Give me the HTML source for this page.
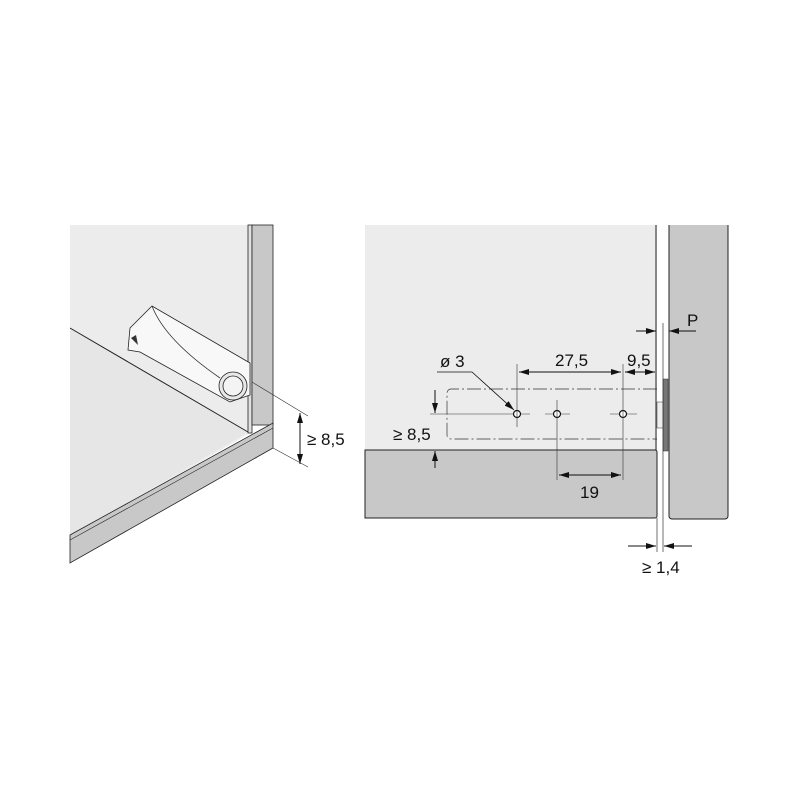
<!DOCTYPE html>
<html><head><style>body{margin:0;background:#fff}svg{display:block}text{font-family:"Liberation Sans",sans-serif;font-size:17px;fill:#111}</style></head><body>
<svg width="800" height="800" viewBox="0 0 800 800">
<defs><marker id="a" markerWidth="10" markerHeight="6" refX="10" refY="3" orient="auto" markerUnits="userSpaceOnUse"><path d="M0,0L10,3L0,6z" fill="#111"/></marker></defs>
<!-- left panel -->
<polygon points="70,225 250,225 250,433 70,538" fill="#ececec"/>
<polygon points="70,328 248,432 70,536" fill="#e6e6e6"/>
<line x1="70" y1="328" x2="248" y2="432" stroke="#222" stroke-width="1"/>
<rect x="248" y="225" width="4" height="208" fill="#e0e0e0" stroke="#222" stroke-width="0.8"/>
<rect x="252" y="225" width="21" height="200" fill="#c8c8c8" stroke="#222" stroke-width="0.8"/>
<polygon points="70,535 273,423 273,448 70,563" fill="#c8c8c8" stroke="#222" stroke-width="0.8"/>
<line x1="70" y1="540" x2="273" y2="428" stroke="#222" stroke-width="0.6"/>
<!-- damper -->
<polygon points="130,328 152,306 250,363 250,395 230,402 140,352 128,350" fill="#f8f8f8" stroke="#222" stroke-width="0.8"/>
<path d="M152,306 Q165,340 220,378" fill="none" stroke="#333" stroke-width="0.8"/>
<circle cx="233" cy="386" r="14" fill="#e8e8e8" stroke="#222" stroke-width="0.8"/>
<circle cx="233" cy="386" r="10" fill="#f4f4f4" stroke="#222" stroke-width="0.8"/>
<path d="M131,338 l5,-3 l2,10z" fill="#333"/>
<line x1="252" y1="382" x2="308" y2="416" stroke="#333" stroke-width="0.6"/>
<line x1="273" y1="448" x2="308" y2="467" stroke="#333" stroke-width="0.6"/>
<line x1="300" y1="427" x2="300" y2="413" stroke="#111" marker-end="url(#a)"/>
<line x1="300" y1="450" x2="300" y2="464" stroke="#111" marker-end="url(#a)"/>
<line x1="300" y1="420" x2="300" y2="458" stroke="#111"/>
<text x="307" y="445">≥ 8,5</text>
<!-- right panel -->
<rect x="365" y="225" width="292" height="226" fill="#ececec"/>
<line x1="656" y1="225" x2="656" y2="451" stroke="#222" stroke-width="1"/>
<path d="M365,450 H655 a2,2 0 0 1 2,2 V516 a2,2 0 0 1 -2,2 H365 Z" fill="#c8c8c8" stroke="#222" stroke-width="1"/>
<path d="M669,225 V516 a3,3 0 0 0 3,3 H725 a3,3 0 0 0 3,-3 V225" fill="#c8c8c8" stroke="#222" stroke-width="1"/>
<rect x="663" y="379" width="5" height="72" fill="#777" stroke="#333" stroke-width="0.5"/>
<rect x="657" y="402" width="6" height="26" fill="#eee" stroke="#333" stroke-width="0.5"/>
<line x1="663" y1="323" x2="663" y2="552" stroke="#333" stroke-width="0.7"/>
<!-- dash dot rect -->
<path d="M657,389 H451 a4,4 0 0 0 -4,4 V435 a4,4 0 0 0 4,4 H657" fill="none" stroke="#333" stroke-width="0.7" stroke-dasharray="14,3,2,3"/>
<line x1="430" y1="414" x2="530" y2="414" stroke="#333" stroke-width="0.6"/>
<line x1="545" y1="414" x2="570" y2="414" stroke="#333" stroke-width="0.6"/>
<line x1="610" y1="414" x2="637" y2="414" stroke="#333" stroke-width="0.6"/>
<g fill="#fff" stroke="#111" stroke-width="1.2"><circle cx="517" cy="414" r="3.5"/><circle cx="557" cy="414" r="3.5"/><circle cx="623" cy="414" r="3.5"/></g>
<line x1="517" y1="364" x2="517" y2="427" stroke="#333" stroke-width="0.6"/>
<line x1="557" y1="400" x2="557" y2="480" stroke="#333" stroke-width="0.6"/>
<line x1="623" y1="364" x2="623" y2="480" stroke="#333" stroke-width="0.6"/>
<line x1="570" y1="372" x2="519" y2="372" stroke="#111" marker-end="url(#a)"/>
<line x1="570" y1="372" x2="621" y2="372" stroke="#111" marker-end="url(#a)"/>
<line x1="640" y1="372" x2="625" y2="372" stroke="#111" marker-end="url(#a)"/>
<line x1="640" y1="372" x2="655" y2="372" stroke="#111" marker-end="url(#a)"/>
<text x="555" y="366">27,5</text><text x="627" y="366">9,5</text>
<text x="440" y="367">ø 3</text>
<polyline points="437,372 472,372 514,410" fill="none" stroke="#111" stroke-width="0.8" marker-end="url(#a)"/>
<line x1="590" y1="475" x2="559" y2="475" stroke="#111" marker-end="url(#a)"/>
<line x1="590" y1="475" x2="621" y2="475" stroke="#111" marker-end="url(#a)"/>
<text x="580" y="498">19</text>
<line x1="435" y1="390" x2="435" y2="413" stroke="#111" marker-end="url(#a)"/>
<line x1="435" y1="468" x2="435" y2="451" stroke="#111" marker-end="url(#a)"/>
<text x="393" y="440">≥ 8,5</text>
<line x1="636" y1="331" x2="656" y2="331" stroke="#111" marker-end="url(#a)"/>
<line x1="696" y1="331" x2="669" y2="331" stroke="#111" marker-end="url(#a)"/>
<text x="687" y="326">P</text>
<line x1="628" y1="546" x2="656" y2="546" stroke="#111" marker-end="url(#a)"/>
<line x1="692" y1="546" x2="664" y2="546" stroke="#111" marker-end="url(#a)"/>
<line x1="657" y1="518" x2="657" y2="552" stroke="#333" stroke-width="0.7"/>
<text x="642" y="573">≥ 1,4</text>
</svg></body></html>
